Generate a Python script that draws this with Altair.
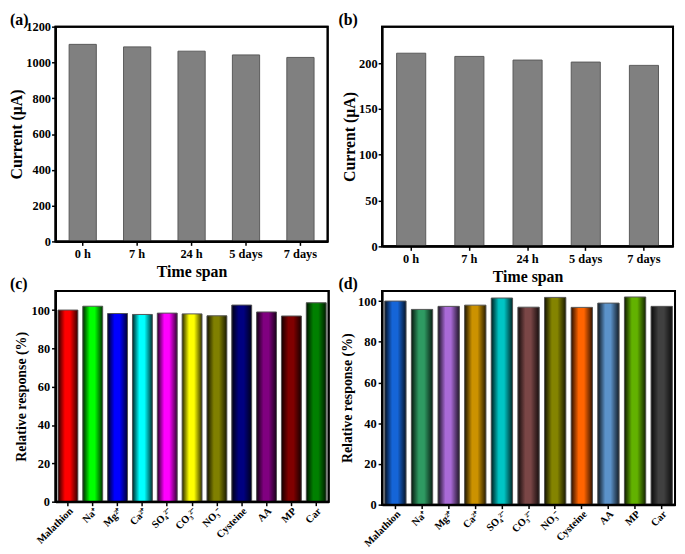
import altair as alt
import pandas as pd

FONT = "Liberation Serif"

time_labels = ["0 h", "7 h", "24 h", "5 days", "7 days"]
current_a = [1101, 1087, 1063, 1042, 1028]
current_b = [211, 207.5, 203.5, 201.3, 197.7]

species = ["Malathion", "Na⁺", "Mg²⁺", "Ca²⁺", "SO₄²⁻", "CO₃²⁻", "NO₃⁻",
           "Cysteine", "AA", "MP", "Car"]
response_c = [100, 102, 98.2, 97.7, 98.4, 98, 97, 102.6, 99, 96.9, 103.8]
colors_c = ["#ff0000", "#00ff00", "#0000ff", "#00ffff", "#ff00ff", "#ffff00",
            "#808000", "#000080", "#800080", "#800000", "#008000"]
response_d = [100, 95.9, 97.4, 98, 101.5, 97, 101.8, 96.9, 99, 102, 97.4]
colors_d = ["#1565d8", "#2e9a62", "#a96ad6", "#cc9200", "#00c4c4", "#7a4646",
            "#848400", "#ff6400", "#5b92c9", "#62b200", "#404040"]

panel_labels = ["(a)", "(b)", "(c)", "(d)"]


def label_layer(text, dx):
    return alt.Chart(pd.DataFrame({"lab": [text]})).mark_text(
        align="left", baseline="top", fontSize=16, font=FONT,
        fontWeight="bold", color="black"
    ).encode(text="lab:N", x=alt.value(dx), y=alt.value(-15))


def frame_layer(w, h):
    return alt.Chart(pd.DataFrame({"f": [0]})).mark_rect(
        filled=False, stroke="black", strokeWidth=2
    ).encode(x=alt.value(0), x2=alt.value(w), y=alt.value(0), y2=alt.value(h))


def time_panel(values, title, ymax, ticks, w, h, dx):
    df = pd.DataFrame({"t": time_labels, "v": values})
    bars = alt.Chart(df).mark_bar(
        color="#808080", stroke="#5a5a5a", strokeWidth=1
    ).encode(
        x=alt.X("t:N", sort=time_labels,
                scale=alt.Scale(paddingInner=0.5, paddingOuter=0.25),
                axis=alt.Axis(title="Time span", labelAngle=0, titleFontSize=16,
                              titlePadding=4)),
        y=alt.Y("v:Q", scale=alt.Scale(domain=[0, ymax], nice=False),
                axis=alt.Axis(title="Current (μA)", values=ticks, format="d",
                              titleFontSize=16, titlePadding=1, labelPadding=1)),
    )
    return alt.layer(bars, frame_layer(w, h), label_layer(title, dx)).properties(
        width=w, height=h)


shade = alt.Gradient(
    gradient="linear", x1=0, x2=1, y1=0, y2=0,
    stops=[
        alt.GradientStop(color="rgba(0,0,0,0.85)", offset=0),
        alt.GradientStop(color="rgba(0,0,0,0.0)", offset=0.35),
        alt.GradientStop(color="rgba(0,0,0,0.0)", offset=0.6),
        alt.GradientStop(color="rgba(0,0,0,0.8)", offset=1),
    ],
)


def species_panel(values, colors, title, ymax, w, h, dx):
    df = pd.DataFrame({"s": species, "v": values})
    x = alt.X("s:N", sort=species,
              scale=alt.Scale(paddingInner=0.2, paddingOuter=0.1),
              axis=alt.Axis(title=None, labelAngle=-45, labelFontSize=10.5,
                            labelPadding=0))
    y = alt.Y("v:Q", scale=alt.Scale(domain=[0, ymax], nice=False),
              axis=alt.Axis(title="Relative response (%)", values=[0, 20, 40, 60, 80, 100],
                            format="d", titleFontSize=14, titlePadding=3))
    base = alt.Chart(df).encode(x=x, y=y)
    bars = base.mark_bar().encode(
        color=alt.Color("s:N", scale=alt.Scale(domain=species, range=colors), legend=None)
    )
    over = base.mark_bar(fill=shade, stroke="#555555", strokeWidth=1)
    return alt.layer(bars, over, frame_layer(w, h), label_layer(title, dx)).properties(
        width=w, height=h)


pa = time_panel(current_a, panel_labels[0], 1200, [0, 200, 400, 600, 800, 1000, 1200],
                275, 217, -46)
pb = time_panel(current_b, panel_labels[1], 240, [0, 50, 100, 150, 200], 294, 222, -44)
pc = species_panel(response_c, colors_c, panel_labels[2], 110, 276, 213, -46)
pd_ = species_panel(response_d, colors_d, panel_labels[3], 105, 296, 216, -44)

chart = alt.concat(
    pa, pb, pc, pd_, columns=2,
    spacing={"row": 45, "column": 54},
    bounds="flush", align="each",
).resolve_scale(
    color="independent"
).properties(
    padding={"left": 0, "top": 0, "right": 0, "bottom": 0}
).configure_axis(
    labelFont=FONT, labelFontWeight="bold", labelFontSize=12.5, labelColor="black",
    titleFont=FONT, titleFontWeight="bold", titleColor="black",
    domainColor="black", domainWidth=2, tickColor="black", tickWidth=1.5,
    tickSize=4, labelPadding=2, grid=False,
).configure_view(
    stroke="black", strokeWidth=2
)

chart.save("out.html", embed_options={"renderer": "svg", "actions": False})
